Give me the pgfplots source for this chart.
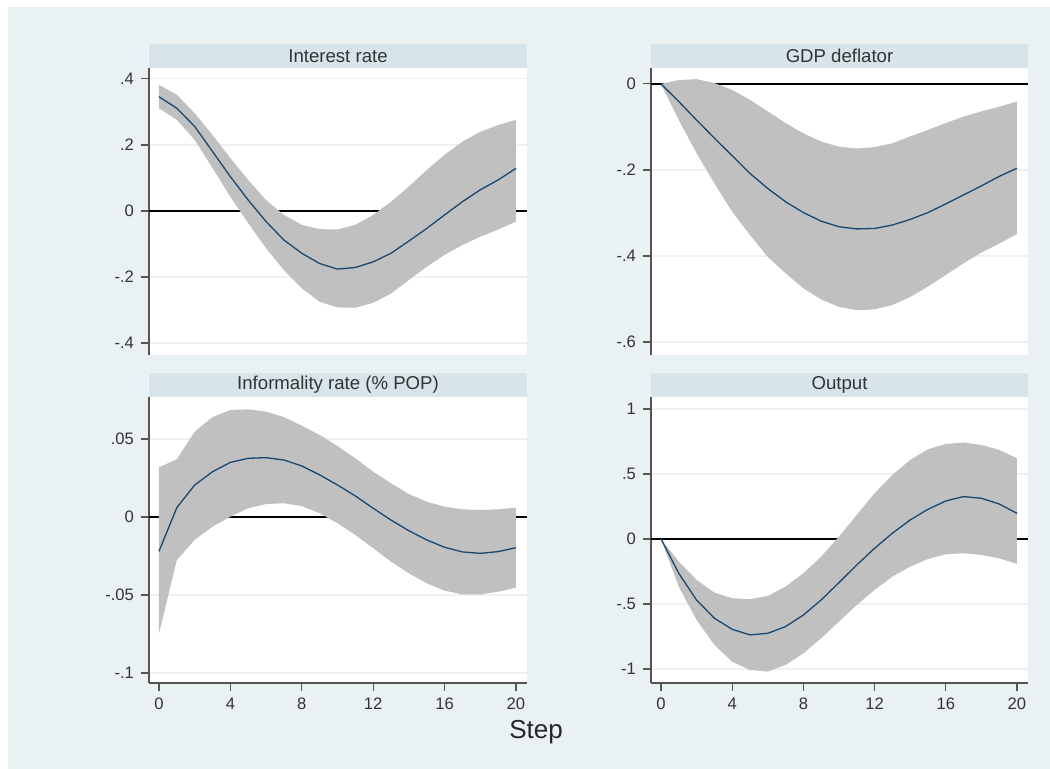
\documentclass[border=0pt]{standalone}
\usepackage{fontspec}
\setmainfont{Liberation Sans}
\usepackage{pgfplots}
\pgfplotsset{compat=1.18}

\definecolor{outerbg}{RGB}{234,241,243}
\definecolor{strip}{RGB}{215,228,234}
\definecolor{band}{RGB}{192,192,192}
\definecolor{irfline}{RGB}{26,71,111}
\definecolor{gridc}{RGB}{236,242,244}
\definecolor{axisc}{RGB}{85,85,85}

% mean responses, steps 0..20
\pgfplotstableread{
s  m
0  0.346
1  0.311
2  0.256
3  0.180
4  0.104
5  0.033
6  -0.032
7  -0.088
8  -0.128
9  -0.159
10 -0.176
11 -0.171
12 -0.154
13 -0.128
14 -0.091
15 -0.053
16 -0.012
17 0.028
18 0.064
19 0.094
20 0.129
}\irate
\pgfplotstableread{
s  m
0  0
1  -0.041
2  -0.084
3  -0.126
4  -0.167
5  -0.208
6  -0.243
7  -0.274
8  -0.299
9  -0.319
10 -0.332
11 -0.337
12 -0.336
13 -0.328
14 -0.315
15 -0.299
16 -0.279
17 -0.258
18 -0.237
19 -0.215
20 -0.196
}\gdpdef
\pgfplotstableread{
s  m
0  -0.0220
1  0.0060
2  0.0205
3  0.0290
4  0.0350
5  0.0376
6  0.0380
7  0.0365
8  0.0327
9  0.0270
10 0.0205
11 0.0135
12 0.0056
13 -0.0020
14 -0.0088
15 -0.0147
16 -0.0194
17 -0.0224
18 -0.0233
19 -0.0222
20 -0.0197
}\informal
\pgfplotstableread{
s  m
0  0
1  -0.264
2  -0.470
3  -0.610
4  -0.695
5  -0.738
6  -0.726
7  -0.674
8  -0.585
9  -0.469
10 -0.336
11 -0.200
12 -0.072
13 0.044
14 0.146
15 0.228
16 0.292
17 0.326
18 0.313
19 0.269
20 0.197
}\output

\pgfplotsset{
  irf/.style={
    scale only axis, width=189pt, height=143.5pt,
    xmin=-0.56, xmax=20.62,
    axis background/.style={fill=white},
    axis y line*=left,
    axis line style={axisc, line width=0.7pt},
    tick align=outside, major tick length=4pt,
    tick style={axisc, line width=0.6pt},
    ymajorgrids, grid style={gridc, line width=0.6pt},
    tick label style={font=\fontsize{8.3}{9}\selectfont, text=black!80},
  },
  toprow/.style={irf, axis x line=none},
  botrow/.style={irf, axis x line*=bottom, xtick={0,4,8,12,16,20},
    xticklabels={0,4,8,12,16,20}},
  zero/.style={black, line width=0.7pt},
  ci/.style={fill=band, draw=none},
  mean/.style={irfline, line width=0.65pt},
}

\begin{document}
\begin{tikzpicture}
\useasboundingbox (0,0) rectangle (525pt,384.5pt);
\fill[white] (0,0) rectangle (525pt,384.5pt);
\fill[outerbg] (4pt,0) rectangle (525pt,381pt);
% title strips
\fill[strip] (74.5pt,350.5pt) rectangle (263.5pt,362.5pt);
\fill[strip] (325.5pt,350.5pt) rectangle (514pt,362.5pt);
\fill[strip] (74.5pt,186pt) rectangle (263.5pt,198pt);
\fill[strip] (325.5pt,186pt) rectangle (514pt,198pt);
\begin{scope}[font=\fontsize{9.3}{10}\selectfont, text=black!80]
\node at (169pt,356.5pt) {Interest rate};
\node at (419.75pt,356.5pt) {GDP deflator};
\node at (169pt,192pt) {Informality rate (\% POP)};
\node at (419.75pt,192pt) {Output};
\end{scope}

% Interest rate
\begin{axis}[toprow, at={(74.5pt,207pt)}, anchor=south west,
  ymin=-0.436, ymax=0.433, ytick={-0.4,-0.2,0,0.2,0.4},
  yticklabels={-.4,-.2,0,.2,.4}]
\addplot[zero] coordinates {(-0.56,0) (20.62,0)};
\addplot[ci] coordinates {
(0,0.382) (1,0.352) (2,0.296) (3,0.230) (4,0.160) (5,0.094) (6,0.033)
(7,-0.012) (8,-0.042) (9,-0.055) (10,-0.056) (11,-0.042) (12,-0.012)
(13,0.028) (14,0.074) (15,0.124) (16,0.170) (17,0.210) (18,0.240)
(19,0.260) (20,0.276)
(20,-0.032) (19,-0.056) (18,-0.078) (17,-0.103) (16,-0.133) (15,-0.169)
(14,-0.209) (13,-0.250) (12,-0.278) (11,-0.293) (10,-0.292) (9,-0.275)
(8,-0.234) (7,-0.179) (6,-0.113) (5,-0.037) (4,0.043) (3,0.130)
(2,0.215) (1,0.276) (0,0.311)} -- cycle;
\addplot[mean] table[x=s,y=m] {\irate};
\end{axis}

% GDP deflator
\begin{axis}[toprow, at={(325.5pt,207pt)}, anchor=south west, width=188.5pt,
  ymin=-0.630, ymax=0.037, ytick={-0.6,-0.4,-0.2,0},
  yticklabels={-.6,-.4,-.2,0}]
\addplot[zero] coordinates {(-0.56,0) (20.62,0)};
\addplot[ci] coordinates {
(0,0) (1,0.009) (2,0.011) (3,0.002) (4,-0.014) (5,-0.037) (6,-0.064)
(7,-0.091) (8,-0.115) (9,-0.134) (10,-0.146) (11,-0.150) (12,-0.147)
(13,-0.138) (14,-0.122) (15,-0.107) (16,-0.091) (17,-0.076) (18,-0.064)
(19,-0.053) (20,-0.041)
(20,-0.349) (19,-0.371) (18,-0.392) (17,-0.417) (16,-0.444) (15,-0.471)
(14,-0.495) (13,-0.514) (12,-0.524) (11,-0.526) (10,-0.518) (9,-0.501)
(8,-0.475) (7,-0.440) (6,-0.402) (5,-0.351) (4,-0.297) (3,-0.231)
(2,-0.161) (1,-0.084) (0,0)} -- cycle;
\addplot[mean] table[x=s,y=m] {\gdpdef};
\end{axis}

% Informality rate
\begin{axis}[botrow, at={(74.5pt,43pt)}, anchor=south west, height=143pt,
  ymin=-0.1064, ymax=0.0769, ytick={-0.1,-0.05,0,0.05},
  yticklabels={-.1,-.05,0,.05}]
\addplot[zero] coordinates {(-0.56,0) (20.62,0)};
\addplot[ci] coordinates {
(0,0.0318) (1,0.0370) (2,0.0547) (3,0.0640) (4,0.0686) (5,0.0690)
(6,0.0675) (7,0.0640) (8,0.0585) (9,0.0526) (10,0.0455) (11,0.0376)
(12,0.0290) (13,0.0216) (14,0.0147) (15,0.0098) (16,0.0066) (17,0.0049)
(18,0.0045) (19,0.0049) (20,0.0060)
(20,-0.0453) (19,-0.0479) (18,-0.0496) (17,-0.0496) (16,-0.0472)
(15,-0.0425) (14,-0.0361) (13,-0.0286) (12,-0.0200) (11,-0.0115)
(10,-0.0040) (9,0.0024) (8,0.0070) (7,0.0088) (6,0.0083) (5,0.0056)
(4,0.0002) (3,-0.0062) (2,-0.0147) (1,-0.0276) (0,-0.0746)} -- cycle;
\addplot[mean] table[x=s,y=m] {\informal};
\end{axis}

% Output
\begin{axis}[botrow, at={(325.5pt,43pt)}, anchor=south west, width=188.5pt,
  height=143pt,
  ymin=-1.108, ymax=1.092, ytick={-1,-0.5,0,0.5,1},
  yticklabels={-1,-.5,0,.5,1}]
\addplot[zero] coordinates {(-0.56,0) (20.62,0)};
\addplot[ci] coordinates {
(0,0) (1,-0.174) (2,-0.315) (3,-0.413) (4,-0.456) (5,-0.464) (6,-0.438)
(7,-0.367) (8,-0.264) (9,-0.136) (10,0.018) (11,0.185) (12,0.351)
(13,0.492) (14,0.608) (15,0.690) (16,0.731) (17,0.741) (18,0.723)
(19,0.685) (20,0.621)
(20,-0.192) (19,-0.149) (18,-0.123) (17,-0.110) (16,-0.118) (15,-0.154)
(14,-0.213) (13,-0.290) (12,-0.392) (11,-0.508) (10,-0.636) (9,-0.764)
(8,-0.880) (7,-0.970) (6,-1.020) (5,-1.008) (4,-0.944) (3,-0.815)
(2,-0.623) (1,-0.367) (0,0)} -- cycle;
\addplot[mean] table[x=s,y=m] {\output};
\end{axis}

\node[font=\fontsize{13}{15}\selectfont, text=black!85] at (268pt,18.5pt) {Step};
\end{tikzpicture}
\end{document}
